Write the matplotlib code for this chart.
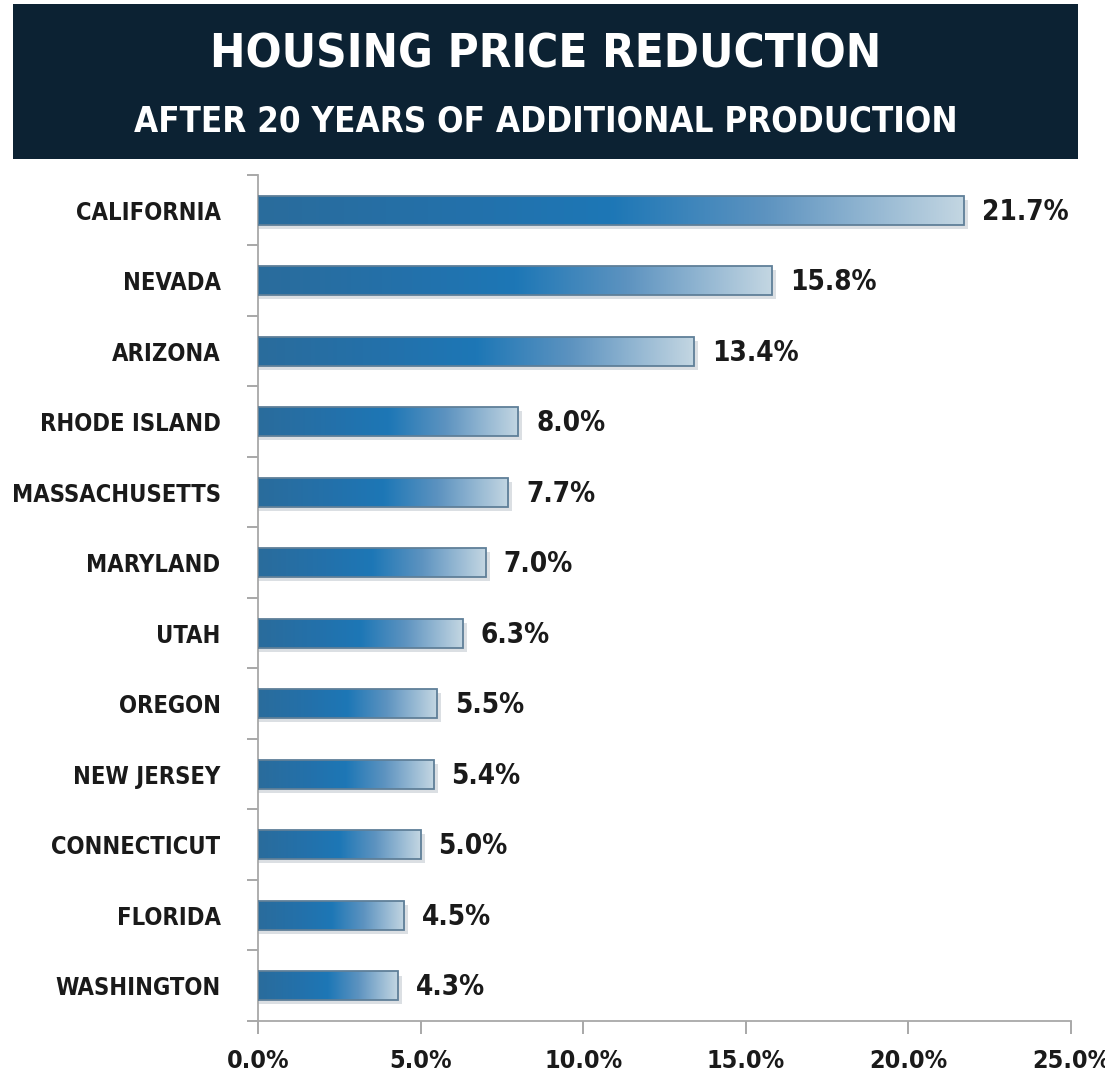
import numpy as np
import matplotlib
matplotlib.use("Agg")
import matplotlib.pyplot as plt
from matplotlib import font_manager
from matplotlib.colors import LinearSegmentedColormap

# -----------------------------
# data
# -----------------------------
states = ["CALIFORNIA", "NEVADA", "ARIZONA", "RHODE ISLAND", "MASSACHUSETTS",
          "MARYLAND", "UTAH", "OREGON", "NEW JERSEY", "CONNECTICUT",
          "FLORIDA", "WASHINGTON"]
reduction = [21.7, 15.8, 13.4, 8.0, 7.7, 7.0, 6.3, 5.5, 5.4, 5.0, 4.5, 4.3]
x_ticks = [0, 5, 10, 15, 20, 25]

title_main = "HOUSING PRICE REDUCTION"
title_sub = "AFTER 20 YEARS OF ADDITIONAL PRODUCTION"

# pick a narrow font if one is around
installed = {f.name for f in font_manager.fontManager.ttflist}
if "Liberation Sans Narrow" in installed:
    FONT = dict(family=["Liberation Sans Narrow", "DejaVu Sans"], weight="bold")
else:
    FONT = dict(family=["DejaVu Sans"], weight="bold", stretch="condensed")

# left-to-right fill: steel blue, slightly brighter mid-bar, fading to pale
bar_cmap = LinearSegmentedColormap.from_list(
    "bar_fade",
    [(0.0, "#2a6c9c"), (0.3, "#2371ab"), (0.5, "#1d77b6"),
     (0.72, "#5d93c0"), (1.0, "#c3d6e2")])
gradient = np.linspace(0, 1, 256).reshape(1, -1)

fig = plt.figure(figsize=(11.05, 10.82), dpi=100)

# title banner
banner = fig.add_axes([0.012, 0.853, 0.964, 0.143])
banner.set_facecolor("#0c2233")
banner.set_xticks([])
banner.set_yticks([])
for s in banner.spines.values():
    s.set_visible(False)
banner.text(0.5, 0.67, title_main, color="white", fontsize=34,
            ha="center", va="center", **FONT)
banner.text(0.5, 0.245, title_sub, color="white", fontsize=25,
            ha="center", va="center", **FONT)

ax = fig.add_axes([0.2335, 0.0564, 0.7357, 0.7819])
y = np.arange(len(states))
bar_h = 0.41

for yi, v in zip(y, reduction):
    # soft drop shadow
    ax.barh(yi + 0.06, v + 0.12, height=bar_h, left=0, color="#9aa6b0",
            alpha=0.35, zorder=1, linewidth=0)
    ax.imshow(gradient, cmap=bar_cmap, aspect="auto", zorder=2,
              extent=(0, v, yi + bar_h / 2, yi - bar_h / 2))
    ax.text(v + 0.55, yi + 0.02, f"{v:.1f}%", fontsize=20, color="#1a1a1a",
            ha="left", va="center", **FONT)

ax.barh(y, reduction, height=bar_h, facecolor="none",
        edgecolor="#5f7f98", linewidth=1.3, zorder=3)

ax.set_xlim(0, 25)
ax.set_ylim(len(states) - 0.5, -0.5)
ax.set_xticks(x_ticks)
ax.set_xticklabels([f"{t:.1f}%" for t in x_ticks], fontsize=18,
                   color="#1a1a1a", **FONT)
ax.set_yticks(y)
ax.set_yticklabels(states, fontsize=17, color="#1a1a1a", **FONT)
ax.set_yticks(np.arange(len(states) + 1) - 0.5, minor=True)
ax.tick_params(axis="y", which="major", length=0, pad=27)
ax.tick_params(axis="y", which="minor", length=8, width=1.2, color="#999999")
ax.tick_params(axis="x", length=9, width=1.2, color="#999999", pad=11)

for side in ("top", "right"):
    ax.spines[side].set_visible(False)
for side in ("left", "bottom"):
    ax.spines[side].set_color("#a8a8a8")
    ax.spines[side].set_linewidth(1.3)

fig.savefig("out.png", dpi=100, facecolor="white")
